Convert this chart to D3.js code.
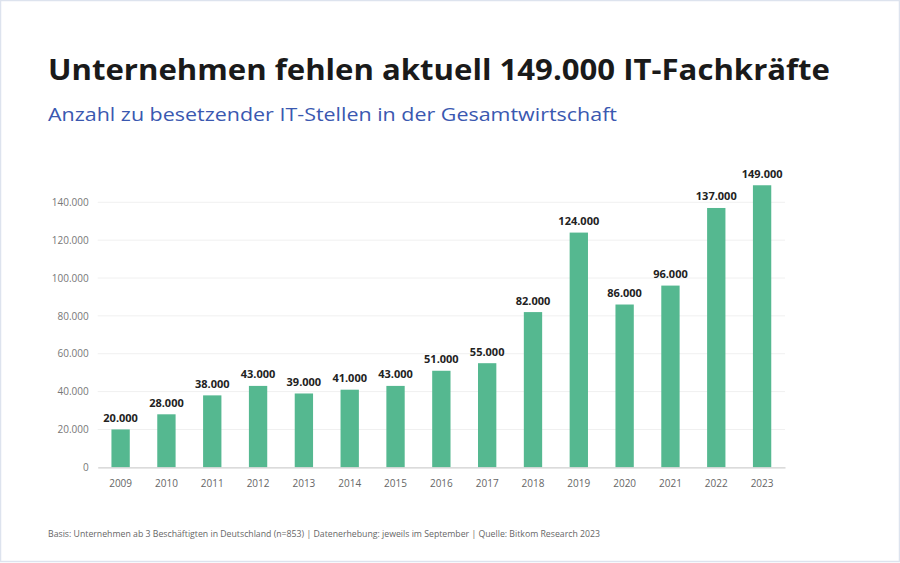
<!DOCTYPE html>
<html><head><meta charset="utf-8">
<script src="https://cdn.jsdelivr.net/npm/d3@7/dist/d3.min.js"></script>
<style>
html,body{margin:0;padding:0;background:#fff;}
svg{display:block;}
</style></head>
<body>
<svg id="chart" width="900" height="563"></svg>
<script>
const years = ["2009","2010","2011","2012","2013","2014","2015","2016","2017","2018","2019","2020","2021","2022","2023"];
const values = [20000,28000,38000,43000,39000,41000,43000,51000,55000,82000,124000,86000,96000,137000,149000];
const yTicks = [0,20000,40000,60000,80000,100000,120000,140000];
const titleText = "Unternehmen fehlen aktuell 149.000 IT-Fachkräfte";
const subtitleText = "Anzahl zu besetzender IT-Stellen in der Gesamtwirtschaft";
const footText = "Basis: Unternehmen ab 3 Beschäftigten in Deutschland (n=853) | Datenerhebung: jeweils im September | Quelle: Bitkom Research 2023";

const svg = d3.select("#chart");
const fmt = v => d3.format(",")(v).replace(/,/g, ".");
const font = "'Open Sans', 'Noto Sans', sans-serif";

// frame
svg.append("rect").attr("x",0.5).attr("y",0.5).attr("width",899).attr("height",561)
  .attr("fill","#fff").attr("stroke","#dde3ee").attr("stroke-width",1.5);

function fitText(sel, w){
  const n = sel.node();
  const bw = n.getComputedTextLength();
  if (bw > 0) sel.attr("textLength", w).attr("lengthAdjust","spacingAndGlyphs");
}

const t = svg.append("text").attr("x",48).attr("y",80).text(titleText)
  .attr("font-family",font).attr("font-weight",700).attr("font-size",28).attr("fill","#1a1a1a");
fitText(t, 782);
const st = svg.append("text").attr("x",48).attr("y",121).text(subtitleText)
  .attr("font-family",font).attr("font-size",19).attr("fill","#3a58b0");
fitText(st, 569);
const ft = svg.append("text").attr("x",48).attr("y",537).text(footText)
  .attr("font-family",font).attr("font-size",9).attr("fill","#666");
fitText(ft, 552);

const x = d3.scaleBand().domain(years).range([97.7,785]).paddingInner(0.6).paddingOuter(0.3);
const y = d3.scaleLinear().domain([0,140000]).range([467.3,202.3]);

// grid
svg.append("g").selectAll("line").data(yTicks.filter(d=>d>0)).join("line")
  .attr("x1",97.7).attr("x2",785).attr("y1",d=>y(d)).attr("y2",d=>y(d))
  .attr("stroke","#f0f0f0").attr("stroke-width",1);

// y axis
const ya = svg.append("g").attr("transform","translate(97.7,0)")
  .call(d3.axisLeft(y).tickValues(yTicks).tickFormat(fmt).tickSize(0).tickPadding(9));
ya.select(".domain").remove();
ya.selectAll("text").attr("font-family",font).attr("font-size",10).attr("fill","#777");

// bars
svg.append("g").selectAll("rect").data(values).join("rect")
  .attr("x",(d,i)=>x(years[i])).attr("width",x.bandwidth())
  .attr("y",d=>y(d)).attr("height",d=>y(0)-y(d))
  .attr("fill","#55b890");

// labels
svg.append("g").selectAll("text").data(values).join("text")
  .attr("x",(d,i)=>x(years[i])+x.bandwidth()/2).attr("y",d=>y(d)-7.5)
  .attr("text-anchor","middle").attr("font-family",font).attr("font-weight",700)
  .attr("font-size",11).attr("fill","#222").text(fmt);

// x axis
const xa = svg.append("g").attr("transform","translate(0,467.3)")
  .call(d3.axisBottom(x).tickSize(0).tickPadding(13));
xa.select(".domain").attr("stroke","#cfcfcf").attr("stroke-width",1.2);
xa.selectAll("text").attr("font-family",font).attr("font-size",10).attr("fill","#666");
</script>
</body></html>
